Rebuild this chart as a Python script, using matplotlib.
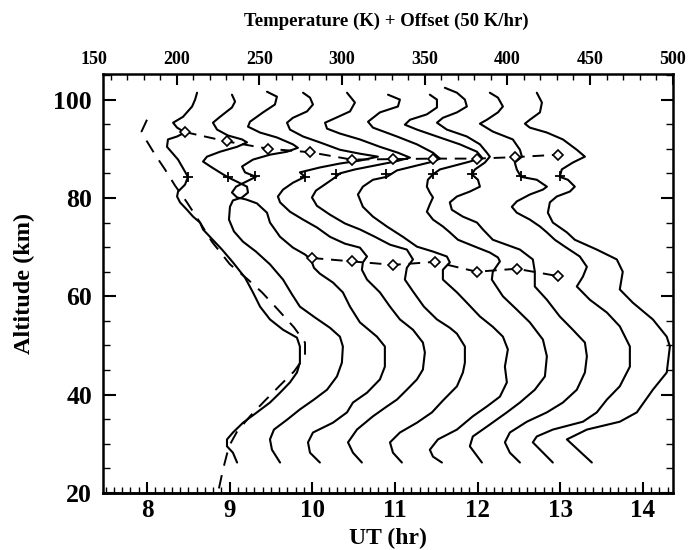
import matplotlib

matplotlib.use("Agg")
import matplotlib.pyplot as plt
from matplotlib.ticker import MultipleLocator

# Temperature + offset (K) and altitude (km) of each half-hourly profile
p1_temp = [212.3, 211.1, 209.3, 203.8, 197.8, 200.2, 205.0, 200.2, 194.7, 194.1, 197.2, 200.8, 203.2, 206.8, 205.0,
           200.8, 200.2, 202.0, 206.2, 209.9, 214.1, 215.9, 220.1, 227.4, 234.0, 241.3, 246.1, 250.4, 256.4, 264.3,
           272.7, 274.5, 274.5, 272.7, 268.5, 262.5, 256.4, 248.5, 240.1, 234.0, 230.4, 230.4, 234.0, 236.5]
p1_alt = [101.4, 100.0, 98.6, 96.5, 95.3, 94.3, 93.3, 92.5, 91.9, 90.4, 89.2, 87.8, 86.4, 84.3, 82.7,
          81.3, 80.3, 79.1, 77.6, 76.2, 75.0, 73.6, 72.1, 69.5, 66.9, 63.8, 60.8, 57.9, 55.3, 53.2,
          51.6, 49.8, 46.5, 44.5, 42.5, 40.4, 38.4, 36.4, 34.3, 32.3, 30.9, 29.5, 28.2, 26.2]

p2_temp = [233.4, 235.3, 233.4, 226.2, 221.9, 224.4, 231.0, 239.5, 242.5, 236.5, 226.2, 218.3, 215.9, 221.3, 228.0,
           231.6, 236.5, 242.5, 243.1, 239.5, 234.0, 232.2, 231.6, 234.6, 240.1, 247.9, 256.4, 264.3, 269.7, 274.5,
           283.6, 292.7, 298.7, 300.5, 299.9, 296.9, 290.9, 283.0, 274.5, 266.7, 258.8, 256.4, 257.6, 262.5]
p2_alt = [101.0, 99.6, 98.4, 96.5, 95.3, 93.9, 92.7, 91.9, 91.3, 90.4, 89.4, 88.4, 87.4, 86.2, 84.8,
          84.1, 83.3, 82.3, 81.1, 80.1, 79.5, 78.2, 75.6, 73.2, 71.1, 69.1, 66.5, 63.4, 60.4, 57.9,
          55.7, 53.6, 51.8, 49.8, 46.5, 43.7, 41.0, 39.0, 37.0, 34.9, 32.9, 30.9, 28.8, 26.2]

p3_temp = [254.6, 260.6, 259.4, 252.2, 244.3, 243.1, 250.4, 260.6, 270.3, 273.3, 266.7, 256.4, 246.1, 239.5, 241.3,
           247.9, 241.9, 235.9, 233.4, 236.5, 241.9, 248.5, 254.6, 256.4, 262.5, 270.3, 277.6, 281.2, 283.0, 286.6,
           294.5, 300.5, 304.8, 310.8, 321.1, 325.9, 325.9, 322.9, 315.1, 306.6, 303.0, 294.5, 282.4, 279.4, 280.6,
           286.6]
p3_alt = [101.6, 100.6, 99.0, 97.4, 95.5, 94.5, 93.3, 92.3, 90.9, 90.2, 89.4, 88.8, 87.8, 86.4, 85.2,
          84.3, 83.3, 82.3, 81.1, 80.1, 79.7, 78.9, 77.0, 75.0, 72.1, 69.9, 68.5, 67.5, 65.8, 64.6,
          62.8, 60.8, 57.9, 54.7, 51.8, 49.8, 45.7, 43.1, 40.4, 38.4, 36.4, 34.3, 32.3, 30.3, 28.2,
          26.2]

p4_temp = [276.4, 280.6, 282.4, 278.8, 270.3, 266.7, 268.5, 276.4, 286.6, 298.7, 310.8, 321.7, 310.8, 298.7, 286.6,
           274.5, 277.6, 270.3, 264.3, 261.2, 262.5, 268.5, 276.4, 284.8, 292.7, 301.8, 310.8, 315.1, 312.6, 312.0,
           315.1, 322.9, 329.0, 335.0, 342.9, 348.9, 350.1, 348.9, 345.3, 339.2, 333.2, 327.1, 318.7, 309.0, 303.6,
           306.6, 312.0]
p4_alt = [101.4, 100.4, 99.0, 97.6, 96.3, 95.3, 93.9, 92.5, 91.3, 89.8, 89.0, 88.4, 87.6, 87.0, 86.2,
          85.2, 84.3, 83.1, 81.7, 80.3, 79.1, 77.2, 75.6, 74.0, 72.1, 70.7, 69.9, 68.1, 66.9, 65.4,
          63.4, 60.8, 57.9, 55.3, 53.2, 50.6, 48.6, 45.1, 43.1, 41.0, 39.0, 37.6, 35.6, 32.9, 30.3,
          28.2, 26.2]

p5_temp = [303.0, 307.8, 304.8, 296.3, 289.7, 290.9, 298.7, 310.8, 322.9, 333.8, 341.1, 332.0, 319.9, 307.8, 298.7,
           296.3, 290.3, 284.2, 281.8, 284.8, 292.7, 301.8, 310.8, 319.9, 329.0, 339.2, 342.9, 339.2, 338.0, 342.9,
           349.5, 357.4, 365.2, 369.5, 374.3, 374.3, 373.1, 369.5, 361.0, 354.4, 345.3, 335.0, 329.0, 330.8, 336.2]
p5_alt = [101.4, 99.4, 97.6, 96.3, 95.3, 94.1, 93.1, 91.9, 90.4, 89.2, 88.2, 87.4, 86.6, 85.8, 85.0,
          84.3, 82.9, 81.5, 80.1, 78.4, 76.6, 74.8, 73.6, 72.1, 70.5, 69.5, 67.5, 65.8, 63.4, 61.0,
          57.9, 55.3, 53.6, 52.4, 49.8, 46.5, 44.5, 41.7, 38.8, 36.4, 34.3, 32.3, 30.3, 28.2, 26.2]

p6_temp = [327.8, 335.0, 333.8, 322.9, 315.7, 318.7, 333.2, 345.3, 355.0, 359.2, 355.0, 345.3, 333.2, 327.1, 318.7,
           312.6, 309.6, 312.6, 318.7, 327.1, 336.8, 345.3, 355.0, 363.4, 365.2, 361.0, 361.0, 369.5, 375.5, 383.4,
           391.2, 397.3, 400.3, 398.5, 399.7, 395.5, 387.6, 379.1, 369.5, 358.0, 353.1, 355.0, 360.4]
p6_alt = [101.0, 100.0, 98.6, 97.4, 95.5, 94.3, 92.5, 90.9, 89.2, 88.0, 87.4, 86.6, 85.6, 84.3, 83.7,
          82.3, 80.7, 78.2, 76.2, 74.2, 72.1, 70.1, 69.1, 68.1, 66.9, 65.4, 63.4, 60.8, 58.7, 55.9,
          53.8, 51.8, 49.2, 45.7, 42.5, 39.6, 37.6, 35.6, 32.9, 30.9, 28.8, 27.4, 26.2]

p7_temp = [353.1, 357.4, 357.4, 351.3, 341.1, 338.0, 345.3, 357.4, 371.3, 381.6, 384.6, 377.3, 368.3, 359.2, 355.0,
           351.9, 351.3, 353.1, 355.0, 353.1, 351.3, 355.0, 361.0, 365.2, 370.1, 380.4, 389.4, 394.3, 395.5, 391.2,
           390.6, 397.3, 405.7, 413.6, 421.5, 423.9, 422.7, 416.6, 407.6, 399.7, 387.6, 379.1, 377.3, 384.6]
p7_alt = [101.0, 100.0, 98.4, 97.0, 95.9, 94.9, 93.9, 92.5, 90.9, 89.4, 88.2, 87.4, 86.6, 85.8, 84.8,
          83.7, 82.3, 81.1, 80.1, 78.7, 77.2, 75.6, 74.2, 73.0, 71.5, 70.1, 68.9, 67.9, 67.1, 65.0,
          63.4, 60.0, 57.3, 54.7, 51.2, 47.8, 43.7, 41.0, 38.4, 36.4, 33.5, 31.5, 29.5, 26.2]

p8_temp = [362.2, 369.5, 374.3, 375.5, 369.5, 361.0, 357.4, 363.4, 375.5, 383.4, 387.6, 389.4, 386.4, 380.4, 378.5,
           382.2, 383.4, 377.3, 369.5, 365.2, 366.4, 373.1, 381.6, 385.2, 391.2, 407.6, 415.4, 416.6, 416.6, 423.9,
           431.7, 439.6, 446.9, 448.1, 446.9, 442.0, 433.6, 423.9, 411.8, 401.5, 398.5, 401.5, 407.6]
p8_alt = [102.4, 101.4, 100.0, 98.6, 97.4, 96.3, 95.3, 93.9, 92.5, 90.9, 89.2, 88.4, 87.2, 85.8, 84.8,
          83.7, 82.3, 81.3, 80.3, 79.1, 77.6, 76.2, 75.0, 73.6, 71.5, 69.5, 67.5, 65.0, 62.0, 59.3,
          55.9, 53.2, 50.6, 47.8, 44.5, 41.0, 38.4, 36.4, 34.5, 32.3, 30.3, 28.2, 26.2]

p9_temp = [389.4, 394.3, 397.3, 394.3, 387.6, 383.4, 391.2, 403.3, 407.6, 408.8, 404.5, 405.7, 408.2, 417.8, 423.9,
           421.5, 413.6, 405.7, 402.7, 405.7, 413.6, 419.7, 423.9, 428.7, 434.8, 443.8, 448.1, 445.7, 442.0, 449.9,
           460.2, 468.0, 474.1, 474.1, 468.0, 460.2, 454.1, 445.7, 427.5, 417.8, 415.4, 427.5]
p9_alt = [101.4, 100.4, 98.6, 97.4, 95.9, 95.1, 93.5, 91.9, 89.8, 88.4, 87.2, 85.8, 84.3, 83.7, 82.3,
          81.7, 80.7, 79.3, 78.2, 77.0, 75.6, 74.2, 73.0, 71.5, 70.1, 68.1, 66.0, 64.0, 62.0, 59.3,
          56.7, 53.9, 49.8, 45.7, 41.7, 39.0, 36.4, 34.5, 32.9, 31.5, 30.3, 26.2]

p10_temp = [417.8, 420.9, 419.7, 413.6, 410.6, 413.6, 423.9, 433.6, 442.0, 446.9, 439.6, 432.9, 431.7, 436.6, 440.8,
            437.8, 429.9, 425.7, 424.5, 427.5, 436.0, 440.8, 454.1, 466.2, 469.8, 468.0, 475.9, 488.0, 496.4, 498.3,
            496.4, 488.0, 478.3, 468.0, 448.1, 436.0, 451.1]
p10_alt = [101.4, 99.4, 97.4, 95.9, 95.1, 94.3, 93.3, 91.9, 89.8, 88.4, 87.2, 85.8, 84.3, 83.7, 82.3,
           81.3, 80.3, 79.1, 77.0, 75.0, 73.0, 71.5, 69.5, 67.5, 65.0, 61.4, 58.7, 55.3, 51.8, 49.8,
           44.5, 41.0, 36.4, 34.5, 32.9, 30.9, 26.2]

# reference (model) profile, dashed
model_temp = [182.0, 178.7, 182.0, 186.9, 192.9, 199.0, 206.2, 214.1, 221.3, 232.2, 243.1, 251.6, 261.2, 270.9,
              277.6, 277.6, 270.9, 262.5, 252.8, 244.3, 236.5, 231.6, 228.0, 225.0]
model_alt = [95.9, 93.5, 91.5, 88.8, 85.8, 82.5, 79.1, 75.0, 71.1, 66.5, 63.4, 60.8, 57.3, 53.7,
             50.6, 47.8, 44.7, 41.9, 38.6, 35.6, 32.5, 29.5, 24.8, 20.1]

# inversion peaks (diamonds) and mesopause marks (+)
upper_temp = [205.0, 230.2, 255.4, 280.6, 305.8, 331.0, 355.1, 381.4, 404.5, 430.7]
upper_alt = [93.4, 91.5, 90.0, 89.3, 87.8, 87.9, 88.0, 88.0, 88.3, 88.8]
lower_temp = [281.6, 305.8, 331.0, 356.2, 381.4, 405.6, 430.7]
lower_alt = [67.8, 67.1, 66.4, 67.0, 65.0, 65.6, 64.1]
cross_temp = [206.8, 231.3, 247.6, 277.6, 296.3, 326.6, 355.0, 378.6, 408.2, 431.8]
cross_alt = [84.3, 84.3, 84.4, 84.3, 84.8, 84.8, 84.8, 84.8, 84.4, 84.4]

temp_ticks = [200, 250, 300, 350, 400, 450, 500]
ut_ticks = [8, 9, 10, 11, 12, 13, 14]
alt_ticks = [20, 40, 60, 80, 100]

profiles = [
    (p1_temp, p1_alt), (p2_temp, p2_alt), (p3_temp, p3_alt), (p4_temp, p4_alt), (p5_temp, p5_alt),
    (p6_temp, p6_alt), (p7_temp, p7_alt), (p8_temp, p8_alt), (p9_temp, p9_alt), (p10_temp, p10_alt),
]


def temp_to_ut(t):
    return t / 50.0 + 4.36


def ut_to_temp(u):
    return (u - 4.36) * 50.0


plt.rcParams["font.family"] = ["Liberation Serif", "DejaVu Serif"]
plt.rcParams["font.weight"] = "bold"

fig = plt.figure(figsize=(6.89, 5.5), dpi=100)
ax = fig.add_axes([0.1495, 0.1036, 0.8273, 0.7618])

for temp, alt in profiles:
    ax.plot(temp, alt, color="black", lw=1.5, solid_joinstyle="round", solid_capstyle="round")
ax.plot(model_temp, model_alt, color="black", lw=1.4, dashes=(7, 5))
ax.plot(upper_temp, upper_alt, color="black", lw=1.4, dashes=(6, 4),
        marker="D", ms=5, mfc="white", mec="black", mew=1.2)
ax.plot(lower_temp, lower_alt, color="black", lw=1.4, dashes=(6, 4),
        marker="D", ms=5, mfc="white", mec="black", mew=1.2)
ax.plot(cross_temp, cross_alt, ls="none", marker="+", ms=7, mew=1.3, color="black")

ax.set_xlim(155.4, 500.2)
ax.set_ylim(20, 105.2)

# temperature scale on top
ax.xaxis.tick_top()
ax.set_xticks(temp_ticks)
ax.xaxis.set_minor_locator(MultipleLocator(10))
ax.tick_params(axis="x", which="major", direction="in", length=8, width=1.5, labelsize=13, pad=4)
ax.tick_params(axis="x", which="minor", direction="in", length=4, width=1)
ax.annotate("150", xy=(150, 1), xycoords=ax.get_xaxis_transform(), xytext=(0, 4),
            textcoords="offset points", ha="center", va="bottom", fontsize=13,
            fontweight="bold", annotation_clip=False)

# altitude on both sides
ax.set_yticks(alt_ticks)
ax.yaxis.set_minor_locator(MultipleLocator(5))
ax.tick_params(axis="y", which="both", direction="in", left=True, right=True)
ax.tick_params(axis="y", which="major", length=9, width=1.5, labelsize=18.5, pad=8)
ax.tick_params(axis="y", which="minor", length=5, width=1)
ax.set_ylabel("Altitude (km)", fontsize=17.5, fontweight="bold")
ax.yaxis.set_label_coords(-0.12, 0.5)

# UT on the bottom
sec = ax.secondary_xaxis("bottom", functions=(temp_to_ut, ut_to_temp))
sec.set_xticks(ut_ticks)
sec.xaxis.set_minor_locator(MultipleLocator(0.1))
sec.tick_params(which="major", direction="in", length=8, width=1.5, labelsize=18, pad=4)
sec.tick_params(which="minor", direction="in", length=4, width=1)
sec.spines["bottom"].set_linewidth(1.8)

for spine in ax.spines.values():
    spine.set_linewidth(1.8)

fig.text(0.563, 0.021, "UT (hr)", ha="center", va="center", fontsize=17, fontweight="bold")
fig.text(0.56, 0.962, "Temperature (K) + Offset (50 K/hr)", ha="center", va="center",
         fontsize=13.5, fontweight="bold")

fig.savefig("out.png", dpi=100)
